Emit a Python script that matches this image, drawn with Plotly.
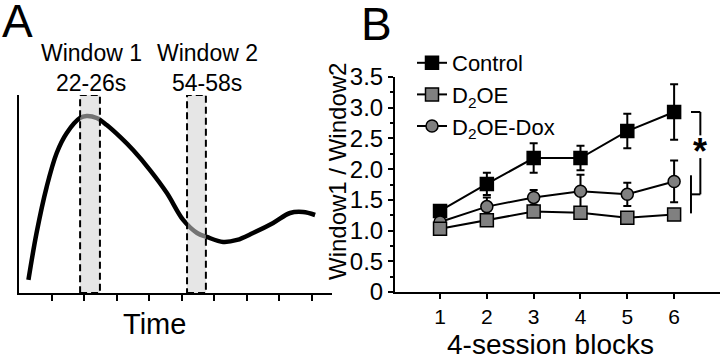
import plotly.graph_objects as go

W, H = 720, 357
FONT = "Liberation Sans, Arial, Helvetica, sans-serif"

# ---------------- Panel A: schematic trace (arbitrary units) ----------------
trace_t = [0.29, 0.54, 0.85, 1.16, 1.47, 1.88, 2.08, 2.39, 2.70, 3.11, 3.51, 4.03,
           4.55, 5.05, 5.48, 5.78, 6.28, 6.71, 7.20, 7.82, 8.34, 8.74, 9.11]
trace_v = [6.6, 30.3, 53.5, 70.7, 80.8, 88.4, 89.4, 88.4, 84.8, 78.8, 72.2, 62.1,
           50.5, 36.9, 30.3, 28.3, 25.8, 26.8, 30.3, 35.4, 40.4, 40.9, 39.4]
time_ticks = [1, 2, 3, 4, 5, 6, 7, 8, 9]
window1 = [1.88, 2.49]
window2 = [5.17, 5.75]
window_titles = ["Window 1", "Window 2"]
window_ranges = ["22-26s", "54-58s"]

# ---------------- Panel B: Window1 / Window2 ratio ----------------
blocks = [1, 2, 3, 4, 5, 6]
control = [1.32, 1.76, 2.18, 2.18, 2.62, 2.93]
control_err = [0.08, 0.18, 0.24, 0.20, 0.28, 0.45]
d2oe = [1.03, 1.17, 1.31, 1.29, 1.21, 1.26]
d2oe_err = [0.05, 0.06, 0.06, 0.08, 0.07, 0.06]
dox = [1.14, 1.39, 1.54, 1.64, 1.59, 1.80]
dox_err = [0.06, 0.15, 0.12, 0.27, 0.19, 0.34]
y_tickvals = [0, 0.5, 1.0, 1.5, 2.0, 2.5, 3.0, 3.5]
y_ticktext = ["0", "0.5", "1.0", "1.5", "2.0", "2.5", "3.0", "3.5"]


def px(x):
    return x / W


def py(y):
    return 1 - y / H


fig = go.Figure()

# Panel A trace
fig.add_trace(go.Scatter(
    x=trace_t, y=trace_v, mode="lines", line=dict(color="black", width=4.5, shape="spline"),
    xaxis="x", yaxis="y", showlegend=False, hoverinfo="skip"))

# Panel B series (draw order: Control, Dox, D2OE)
eb = dict(type="data", color="black", thickness=2, width=4)
fig.add_trace(go.Scatter(
    x=blocks, y=control, name="Control", mode="lines+markers",
    error_y=dict(array=control_err, **eb),
    line=dict(color="black", width=2),
    marker=dict(symbol="square", size=13, color="black", line=dict(color="black", width=1.5)),
    xaxis="x2", yaxis="y2", legendrank=1))
fig.add_trace(go.Scatter(
    x=blocks, y=dox, name="D<sub>2</sub>OE-Dox", mode="lines+markers",
    error_y=dict(array=dox_err, **eb),
    line=dict(color="black", width=2),
    marker=dict(symbol="circle", size=12, color="#808080", line=dict(color="black", width=1.5)),
    xaxis="x2", yaxis="y2", legendrank=3))
fig.add_trace(go.Scatter(
    x=blocks, y=d2oe, name="D<sub>2</sub>OE", mode="lines+markers",
    error_y=dict(array=d2oe_err, **eb),
    line=dict(color="black", width=2),
    marker=dict(symbol="square", size=13, color="#808080", line=dict(color="black", width=1.5)),
    xaxis="x2", yaxis="y2", legendrank=2))

shapes = []
for w in (window1, window2):
    shapes.append(dict(type="rect", xref="x", yref="y", x0=w[0], x1=w[1], y0=0, y1=100,
                       fillcolor="rgba(210,210,210,0.55)", layer="above",
                       line=dict(color="black", width=2, dash="7px,4px")))

# significance bracket derived from block-6 values
bx0, bx1 = 6.36, 6.56
y_top = control[-1]
y_low0 = d2oe[-1] + 0.02
y_low1 = dox[-1] + 0.1
y_mid = (y_low0 + y_low1) / 2
y_star = 2.35
bl = dict(color="black", width=2)
shapes += [
    dict(type="line", xref="x2", yref="y2", x0=bx0, x1=bx1, y0=y_top, y1=y_top, line=bl),
    dict(type="line", xref="x2", yref="y2", x0=bx1, x1=bx1, y0=y_top, y1=y_star + 0.2, line=bl),
    dict(type="line", xref="x2", yref="y2", x0=bx1, x1=bx1, y0=y_star - 0.17, y1=y_mid, line=bl),
    dict(type="line", xref="x2", yref="y2", x0=bx0, x1=bx1, y0=y_mid, y1=y_mid, line=bl),
    dict(type="line", xref="x2", yref="y2", x0=bx0, x1=bx0, y0=y_low0, y1=y_low1, line=bl),
]

ann = []


def text(x, y, s, size, **kw):
    ann.append(dict(x=px(x), y=py(y), xref="paper", yref="paper", text=s, showarrow=False,
                    font=dict(size=size, color="black", family=FONT),
                    xanchor=kw.pop("xanchor", "center"), yanchor="middle", **kw))


text(17, 21, "A", 46)
text(376, 24, "B", 46)
text(91, 53, window_titles[0], 23)
text(91, 83, window_ranges[0], 23)
text(208, 53, window_titles[1], 23)
text(207, 83, window_ranges[1], 23)
text(154, 324, "Time", 29)
text(550, 344, "4-session blocks", 28)
text(337, 172, "Window1 / Window2", 24, textangle=-90)
ann.append(dict(x=(bx0 + bx1) / 2 + 0.09, y=y_star, xref="x2", yref="y2", text="<b>*</b>",
                showarrow=False, font=dict(size=36, color="black", family=FONT),
                xanchor="center", yanchor="middle", yshift=-4))

fig.update_layout(
    width=W, height=H, margin=dict(l=0, r=0, t=0, b=0, autoexpand=False),
    paper_bgcolor="white", plot_bgcolor="white",
    font=dict(family=FONT, color="black"),
    shapes=shapes, annotations=ann,
    xaxis=dict(domain=[px(19), px(332)], range=[0, 9.63], showline=True, linecolor="black",
               linewidth=2, ticks="outside", ticklen=6, tickwidth=2, tickcolor="black",
               tickvals=time_ticks, showticklabels=False, showgrid=False, zeroline=False,
               fixedrange=True),
    yaxis=dict(domain=[py(293), py(95)], range=[0, 100], showline=True, linecolor="black",
               linewidth=2, ticks="", showticklabels=False, showgrid=False, zeroline=False,
               fixedrange=True),
    xaxis2=dict(domain=[px(395), 1], range=[0.038, 6.98], showline=True, linecolor="black",
                linewidth=2, ticks="outside", ticklen=5, tickwidth=2, tickcolor="black",
                tickvals=blocks, tickfont=dict(size=21), showgrid=False, zeroline=False,
                anchor="y2", fixedrange=True),
    yaxis2=dict(domain=[py(292), py(77)], range=[0, 3.5], showline=True, linecolor="black",
                linewidth=2, ticks="outside", ticklen=5, tickwidth=2, tickcolor="black",
                tickvals=y_tickvals, ticktext=y_ticktext, tickfont=dict(size=24),
                minor=dict(ticks="outside", ticklen=3, tickwidth=1.5, tickcolor="black",
                           dtick=0.25),
                showgrid=False, zeroline=False, anchor="x2", fixedrange=True),
    legend=dict(x=px(412), y=py(42), xanchor="left", yanchor="top", bgcolor="rgba(0,0,0,0)",
                font=dict(size=22, family=FONT), tracegroupgap=0, itemwidth=30,
                traceorder="normal"),
)

fig.write_html("out.html", config={"displayModeBar": False},
               post_script="document.body.style.margin='0';")
